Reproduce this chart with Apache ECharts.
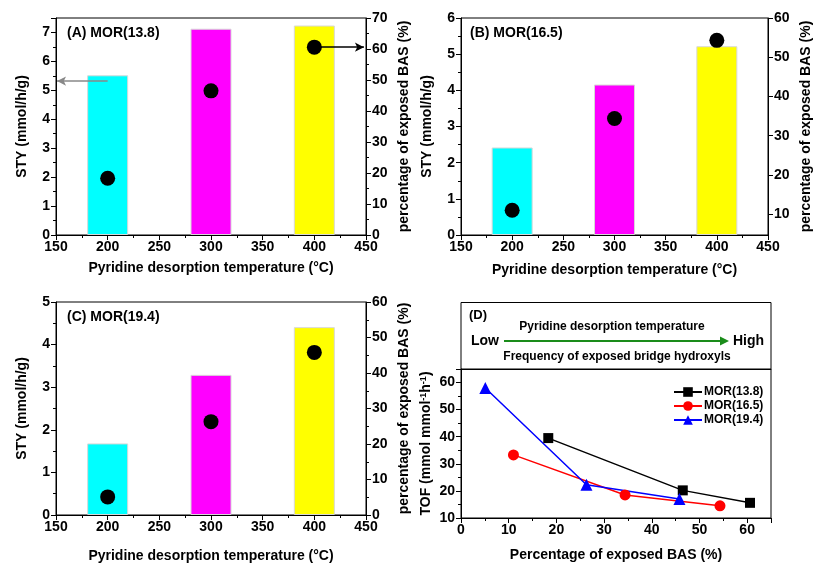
<!DOCTYPE html>
<html><head><meta charset="utf-8">
<script src="https://cdn.jsdelivr.net/npm/echarts@6/dist/echarts.min.js"></script>
<style>html,body{margin:0;padding:0;background:#fff}#c{width:814px;height:564px}</style>
</head><body><div id="c"></div>
<script>
// ---- data ----
const temps = [200, 300, 400];
const barColors = ['#00FFFF', '#FF00FF', '#FFFF00'];
const styA = [5.52, 7.13, 7.24];
const basA = [18.3, 46.5, 60.6];
const styB = [2.42, 4.16, 5.22];
const basB = [11.0, 34.4, 54.3];
const styC = [1.68, 3.29, 4.41];
const basC = [5.1, 26.3, 45.8];
const tofA = [39.5, 20.2, 15.6];
const tofB = [33.3, 18.5, 14.5];
const tofC = [58.0, 22.3, 17.0];
const xTitleT = 'Pyridine desorption temperature (°C)';
const yTitleSTY = 'STY (mmol/h/g)';
const yTitleBAS = 'percentage of exposed BAS (%)';

const FONT = 'Liberation Sans, Arial, sans-serif';
const lbl = {color:'#000', fontFamily:FONT, fontWeight:'bold', fontSize:14};
const nameStyle = {color:'#000', fontFamily:FONT, fontWeight:'bold', fontSize:14};
const axLine = {show:true, onZero:false, lineStyle:{color:'#000', width:1}};
const tick = {show:true, inside:false, length:5, lineStyle:{color:'#000'}};
const minor = {show:true, splitNumber:2, length:3, lineStyle:{color:'#000'}};

const grids = [
  {left:56, top:18, width:310, height:217},
  {left:461, top:18, width:310, height:217},
  {left:56, top:302, width:310, height:215},
  {left:461, top:369, width:310, height:149}
].map(g => Object.assign({show:true, borderColor:'#000', borderWidth:1, containLabel:false}, g));

function tempAxis(gi, gap){
  return {type:'value', gridIndex:gi, min:150, max:450, interval:50,
    axisLine:axLine, axisTick:tick, minorTick:minor, splitLine:{show:false},
    axisLabel:Object.assign({margin:5}, lbl),
    name:xTitleT, nameLocation:'middle', nameGap:gap, nameTextStyle:nameStyle};
}
function hideNonInt(v){ return Number.isInteger(v) ? String(v) : ''; }
function leftAxis(gi, max){
  return {type:'value', gridIndex:gi, position:'left', min:0, max:max, interval:1,
    axisLine:axLine, axisTick:tick, minorTick:minor, splitLine:{show:false},
    axisLabel:Object.assign({margin:6, formatter:hideNonInt}, lbl),
    name:yTitleSTY, nameLocation:'middle', nameGap:27, nameTextStyle:nameStyle};
}
function rightAxis(gi, min, max, custom){
  const a = {type:'value', gridIndex:gi, position:'right', min:min, max:max, interval:10,
    axisLine:axLine, axisTick:Object.assign({}, tick), minorTick:minor, splitLine:{show:false},
    axisLabel:Object.assign({margin:6}, lbl),
    name:yTitleBAS, nameLocation:'middle', nameGap:31, nameTextStyle:nameStyle};
  if (custom){
    a.axisLabel.customValues = custom;
    a.axisTick.customValues = custom;
    a.minorTick = {show:false};
  }
  return a;
}

function bars(gi, sty){
  return {type:'bar', xAxisIndex:gi, yAxisIndex:gi*2, barWidth:41,
    data: temps.map((t,i)=>({value:[t, sty[i]], itemStyle:{color:barColors[i], borderColor:'#d8d8d8', borderWidth:1}})),
    silent:true};
}
function dots(gi, bas){
  return {type:'scatter', xAxisIndex:gi, yAxisIndex:gi*2+1, symbolSize:15,
    itemStyle:{color:'#000', opacity:1}, data: temps.map((t,i)=>[t, bas[i]]), silent:true, z:5};
}

const xAxes = [tempAxis(0,26), tempAxis(1,28), tempAxis(2,34),
  {type:'value', gridIndex:3, min:0, max:65, interval:10,
   axisLine:axLine, axisTick:tick, minorTick:minor, splitLine:{show:false},
   axisLabel:Object.assign({margin:5, formatter:v=> v%10===0? String(v):''}, lbl),
   name:'Percentage of exposed BAS (%)', nameLocation:'middle', nameGap:30, nameTextStyle:nameStyle}];

const yAxes = [leftAxis(0,7.5), rightAxis(0,0,70),
  leftAxis(1,6), rightAxis(1,4.7,60,[10,20,30,40,50,60]),
  leftAxis(2,5), rightAxis(2,0,60),
  {type:'value', gridIndex:3, min:10, max:65, interval:10,
   axisLine:axLine, axisTick:tick, minorTick:minor, splitLine:{show:false},
   axisLabel:Object.assign({margin:6, formatter:v=> v%10===0? String(v):''}, lbl),
   name:'TOF (mmol mmol{sup|-1}h{sup|-1})', nameLocation:'middle', nameGap:27,
   nameTextStyle:Object.assign({rich:{sup:{fontSize:9, fontWeight:'bold', fontFamily:FONT, color:'#000', verticalAlign:'top', padding:[0,0,6,0]}}}, nameStyle)}];

const series = [
  Object.assign(bars(0, styA), {markLine:{silent:true, symbol:['none','arrow'], symbolSize:[7,9], label:{show:false},
     lineStyle:{color:'#888', width:1.5, type:'solid'}, data:[[{coord:[200,5.32]},{coord:[151,5.32]}]]}}),
  Object.assign(dots(0, basA), {markLine:{silent:true, symbol:['none','arrow'], symbolSize:[7,9], label:{show:false},
     lineStyle:{color:'#000', width:1.5, type:'solid'}, data:[[{coord:[400,60.6]},{coord:[448,60.6]}]]}}),
  bars(1, styB), dots(1, basB),
  bars(2, styC), dots(2, basC),
  {name:'MOR(13.8)', type:'line', xAxisIndex:3, yAxisIndex:6, symbol:'rect', symbolSize:10,
   lineStyle:{color:'#000', width:1.5}, itemStyle:{color:'#000'}, data: basA.map((x,i)=>[x, tofA[i]])},
  {name:'MOR(16.5)', type:'line', xAxisIndex:3, yAxisIndex:6, symbol:'circle', symbolSize:11,
   lineStyle:{color:'#FF0000', width:1.5}, itemStyle:{color:'#FF0000'}, data: basB.map((x,i)=>[x, tofB[i]])},
  {name:'MOR(19.4)', type:'line', xAxisIndex:3, yAxisIndex:6, symbol:'triangle', symbolSize:12,
   lineStyle:{color:'#0000FF', width:1.5}, itemStyle:{color:'#0000FF'}, data: basC.map((x,i)=>[x, tofC[i]])}
];

const chart = echarts.init(document.getElementById('c'), null, {renderer:'canvas'});
chart.setOption({
  backgroundColor:'#fff',
  animation:false,
  grid:grids, xAxis:xAxes, yAxis:yAxes, series:series,
  legend:{left:668, top:381, orient:'vertical', itemWidth:28, itemHeight:12, itemGap:2,
    textStyle:{color:'#000', fontFamily:FONT, fontWeight:'bold', fontSize:12, padding:[0,0,0,-3]},
    data:['MOR(13.8)','MOR(16.5)','MOR(19.4)']},
  graphic:[
    {type:'text', left:67, top:26, silent:true, style:{text:'(A) MOR(13.8)', fill:'#000', font:'bold 14px '+FONT}},
    {type:'text', left:470, top:26, silent:true, style:{text:'(B) MOR(16.5)', fill:'#000', font:'bold 14px '+FONT}},
    {type:'text', left:67, top:310, silent:true, style:{text:'(C) MOR(19.4)', fill:'#000', font:'bold 14px '+FONT}},
    {type:'rect', silent:true, shape:{x:461, y:302.5, width:310, height:67}, style:{fill:'none', stroke:'#000', lineWidth:1}},
    {type:'text', silent:true, x:469, y:315, style:{text:'(D)', fill:'#000', font:'bold 13px '+FONT, textVerticalAlign:'middle'}},
    {type:'text', silent:true, x:612, y:327, style:{text:'Pyridine desorption temperature', fill:'#000', font:'bold 12px '+FONT, textAlign:'center', textVerticalAlign:'middle'}},
    {type:'text', silent:true, x:617, y:357, style:{text:'Frequency of exposed bridge hydroxyls', fill:'#000', font:'bold 12px '+FONT, textAlign:'center', textVerticalAlign:'middle'}},
    {type:'text', silent:true, x:471, y:341, style:{text:'Low', fill:'#000', font:'bold 14px '+FONT, textVerticalAlign:'middle'}},
    {type:'text', silent:true, x:764, y:341, style:{text:'High', fill:'#000', font:'bold 14px '+FONT, textAlign:'right', textVerticalAlign:'middle'}},
    {type:'line', silent:true, shape:{x1:504, y1:341, x2:722, y2:341}, style:{stroke:'#1a8c1a', lineWidth:2}},
    {type:'polygon', silent:true, shape:{points:[[720,336.5],[729,341],[720,345.5]]}, style:{fill:'#1a8c1a'}}
  ]
});
</script></body></html>
